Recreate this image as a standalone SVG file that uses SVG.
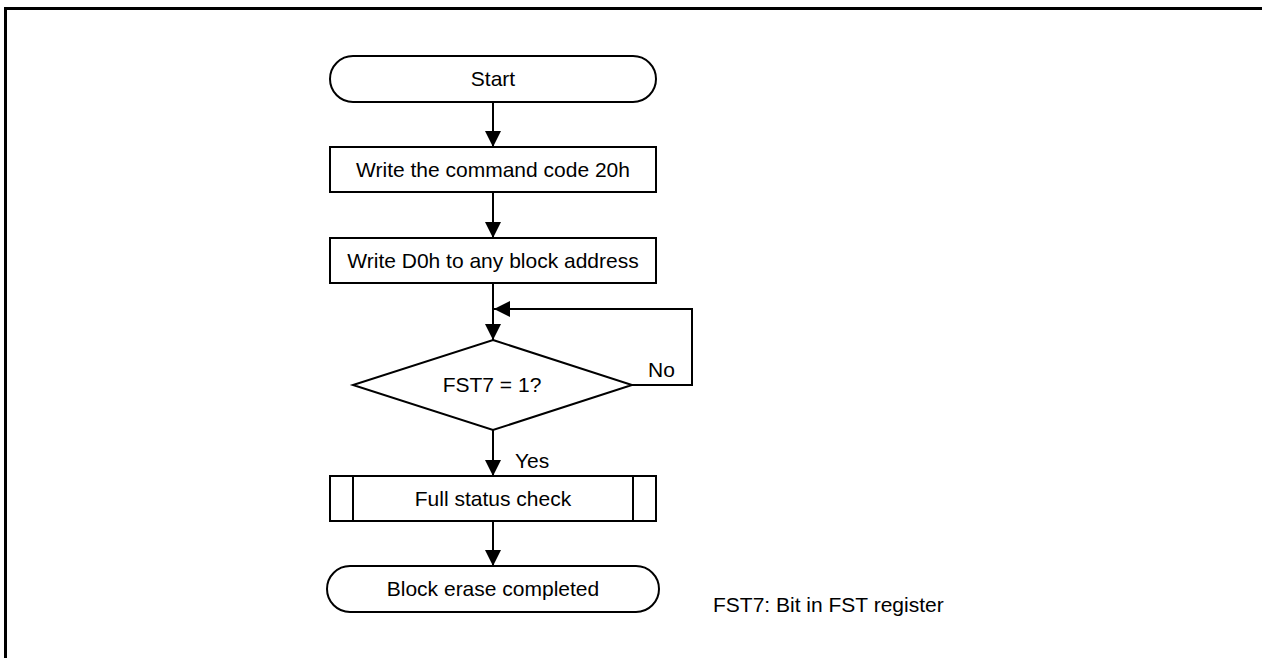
<svg xmlns="http://www.w3.org/2000/svg" width="1262" height="658" viewBox="0 0 1262 658">
<defs>
<style>
.shape{fill:#fff;stroke:#000;stroke-width:2}
.conn{fill:none;stroke:#000;stroke-width:2}
text{font-family:"Liberation Sans",Arial,sans-serif;font-size:21px;fill:#000}
.c{text-anchor:middle}
</style>
<marker id="ah" markerUnits="userSpaceOnUse" markerWidth="16" markerHeight="16" refX="16" refY="8" orient="auto" viewBox="0 0 16 16">
<path d="M0,0 L16,8 L0,16 z" fill="#000"/>
</marker>
</defs>
<rect width="1262" height="658" fill="#fff"/>
<g id="frame">
<path d="M5.5,658 V8.5 H1262" fill="none" stroke="#000" stroke-width="3"/>
</g>
<g id="connectors">
<line class="conn" x1="493" y1="102" x2="493" y2="147" marker-end="url(#ah)"/>
<line class="conn" x1="493" y1="192" x2="493" y2="238" marker-end="url(#ah)"/>
<line class="conn" x1="493" y1="283" x2="493" y2="340" marker-end="url(#ah)"/>
<polyline class="conn" points="632,385 692,385 692,309 494,309" marker-end="url(#ah)"/>
<line class="conn" x1="493" y1="430" x2="493" y2="476" marker-end="url(#ah)"/>
<line class="conn" x1="493" y1="521" x2="493" y2="566" marker-end="url(#ah)"/>
<text x="648" y="377">No</text>
<text x="515" y="468">Yes</text>
</g>
<g id="start">
<rect class="shape" x="330" y="56" width="326" height="46" rx="23" ry="23"/>
<text class="c" x="493" y="86">Start</text>
</g>
<g id="write-cmd">
<rect class="shape" x="330" y="147" width="326" height="45"/>
<text class="c" x="493" y="177">Write the command code 20h</text>
</g>
<g id="write-d0h">
<rect class="shape" x="330" y="238" width="326" height="45"/>
<text class="c" x="493" y="268">Write D0h to any block address</text>
</g>
<g id="decision">
<polygon class="shape" points="493,340 632,385 493,430 353,385"/>
<text class="c" x="492" y="392">FST7 = 1?</text>
</g>
<g id="full-status">
<rect class="shape" x="330" y="476" width="326" height="45"/>
<line class="conn" x1="353" y1="476" x2="353" y2="521"/>
<line class="conn" x1="633" y1="476" x2="633" y2="521"/>
<text class="c" x="493" y="506">Full status check</text>
</g>
<g id="end">
<rect class="shape" x="327" y="566" width="332" height="46" rx="23" ry="23"/>
<text class="c" x="493" y="596">Block erase completed</text>
</g>
<g id="note">
<text x="713" y="612">FST7: Bit in FST register</text>
</g>
</svg>
